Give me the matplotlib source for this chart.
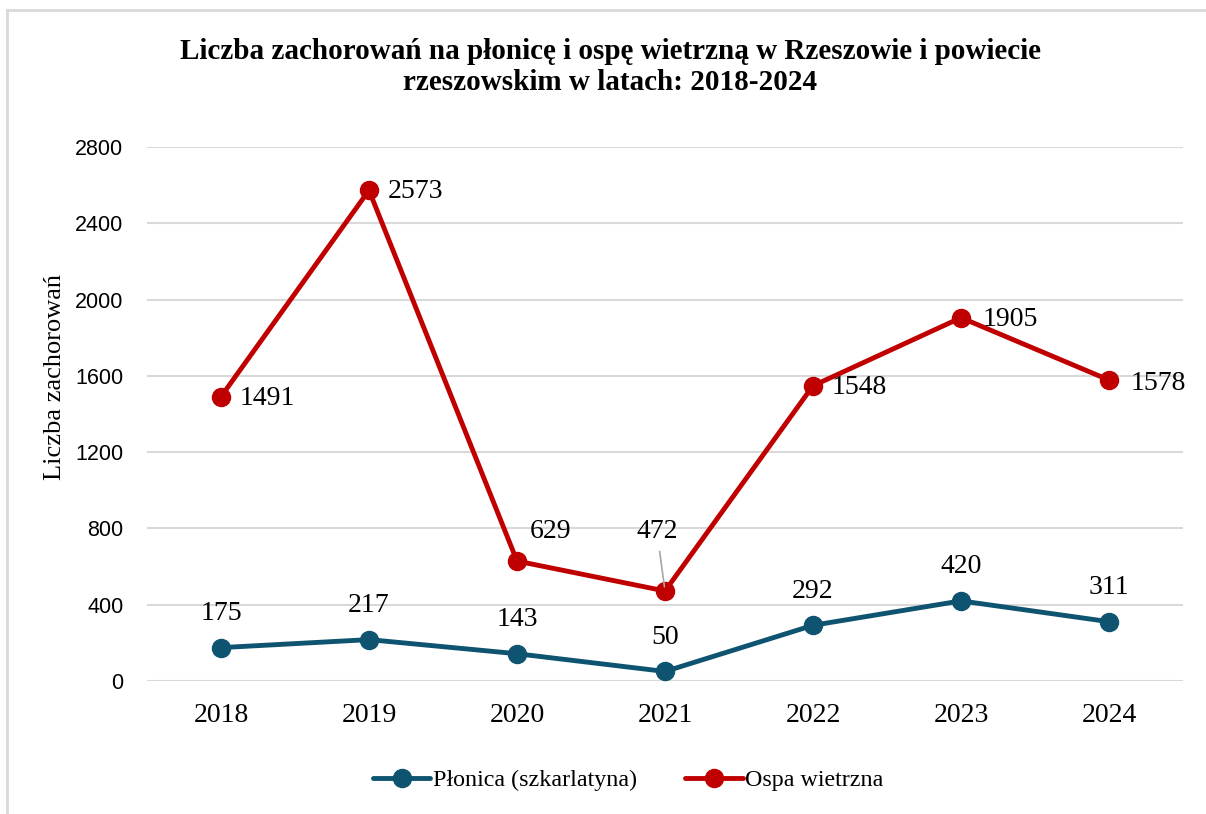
import matplotlib
matplotlib.use("Agg")
import matplotlib.pyplot as plt
from matplotlib.lines import Line2D

# data
years = ["2018", "2019", "2020", "2021", "2022", "2023", "2024"]
plonica = [175, 217, 143, 50, 292, 420, 311]
ospa = [1491, 2573, 629, 472, 1548, 1905, 1578]
yticks = [0, 400, 800, 1200, 1600, 2000, 2400, 2800]

title = "Liczba zachorowań na płonicę i ospę wietrzną w Rzeszowie i powiecie\nrzeszowskim w latach: 2018-2024"
ylabel = "Liczba zachorowań"
names = ["Płonica (szkarlatyna)", "Ospa wietrzna"]

blue = "#0E5470"
red = "#C00000"
grid = "#D9D9D9"
serif = "Liberation Serif"
sans = "Liberation Sans"

W, H = 1206, 814
fig = plt.figure(figsize=(W / 100, H / 100), dpi=100)
ax = fig.add_axes([147 / W, 1 - 681 / H, (1183 - 147) / W, (681 - 147) / H])

x = list(range(len(years)))
ax.plot(x, plonica, color=blue, lw=3.5, marker="o", ms=13, zorder=3,
        solid_capstyle="round", label=names[0])
ax.plot(x, ospa, color=red, lw=3.5, marker="o", ms=13, zorder=3,
        solid_capstyle="round", label=names[1])

ax.set_xlim(-0.5, len(years) - 0.5)
ax.set_ylim(0, 2800)
ax.set_yticks(yticks)
ax.set_xticks(x)
ax.set_xticklabels(years, fontfamily=serif, fontsize=20)
ax.set_yticklabels([str(t) for t in yticks], fontfamily=sans, fontsize=15.5)
ax.tick_params(axis="x", length=0, pad=16)
ax.tick_params(axis="y", length=0, pad=17)
for s in ax.spines.values():
    s.set_visible(False)
ax.grid(axis="y", color=grid, lw=1.5, zorder=0)
ax.set_axisbelow(True)

fig.text(55 / W, 1 - 377 / H, ylabel, rotation=90, ha="center", va="center",
         fontfamily=serif, fontsize=19)

# labels for Płonica: centered above points
for xi, v in zip(x, plonica):
    ax.annotate(str(v), (xi, v), xytext=(0, 34), textcoords="offset pixels",
                ha="center", va="center", fontfamily=serif, fontsize=20)

# labels for Ospa: mostly right of points
offsets = [(19, -2), (19, -1), (34, 30), (-8, 59), (19, -2), (22, -2), (22, -3)]
for i, (xi, v) in enumerate(zip(x, ospa)):
    dx, dy = offsets[i]
    if i in (2, 3):
        kw = {}
        if i == 3:
            kw = dict(arrowprops=dict(arrowstyle="-", color="#A6A6A6", lw=1.2,
                                      shrinkA=3, shrinkB=3))
        ax.annotate(str(v), (xi, v), xytext=(dx, dy), textcoords="offset pixels",
                    ha="center", va="center", fontfamily=serif, fontsize=20, **kw)
    else:
        ax.annotate(str(v), (xi, v), xytext=(dx, dy), textcoords="offset pixels",
                    ha="left", va="center", fontfamily=serif, fontsize=20)

fig.text(610 / W, 1 - 67 / H, title, ha="center", va="center",
         fontfamily=serif, fontweight="bold", fontsize=21, linespacing=1.2)

handles = [Line2D([], [], color=blue, lw=3.5, marker="o", ms=13, solid_capstyle="round"),
           Line2D([], [], color=red, lw=3.5, marker="o", ms=13, solid_capstyle="round")]
fig.legend(handles, names, loc="center", bbox_to_anchor=(628 / W, 1 - 780 / H),
           ncol=2, frameon=False, prop={"family": serif, "size": 17.3},
           handlelength=2.4, handletextpad=0.1, columnspacing=2.0)

# outer frame (only top and left edges visible in the original)
fig.add_artist(Line2D([7 / W, 1], [1 - 10 / H, 1 - 10 / H], color=grid, lw=2,
                      transform=fig.transFigure))
fig.add_artist(Line2D([7 / W, 7 / W], [0, 1 - 10 / H], color=grid, lw=2,
                      transform=fig.transFigure))

fig.savefig("out.png", dpi=100, facecolor="white")
